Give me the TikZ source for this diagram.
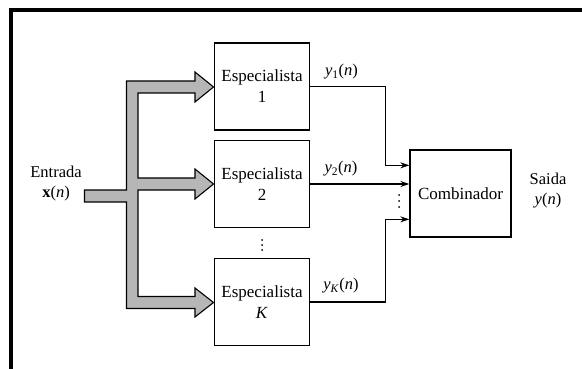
\documentclass[tikz,border=0pt]{standalone}
\usepackage{fontspec}
\setmainfont{Liberation Serif}
\usetikzlibrary{arrows.meta,calc}
\definecolor{arrowgray}{RGB}{182,182,182}
\begin{document}
\begin{tikzpicture}[x=1pt,y=-1pt,
  block/.style={draw,line width=1.3pt,minimum width=95pt,minimum height=87pt,
    align=center,inner sep=0pt,font=\fontsize{17}{21}\selectfont},
  conn/.style={line width=1.1pt,-{Stealth[length=9pt,width=6pt]}},
  lbl/.style={font=\fontsize{16.5}{20}\selectfont,inner sep=0pt,align=center},
  dot/.style={fill=black,draw=none}]
\useasboundingbox (0,0) rectangle (582,369);
% frame bars
\fill[black] (9,8) rectangle (582,12);
\fill[black] (9,8) rectangle (13,369);

% wide gray distribution arrow
\draw[fill=arrowgray,line width=1.1pt,line join=miter]
  (126.5,81) -- (195,81) -- (195,72) -- (213.5,87) -- (195,102) -- (195,93)
  -- (138,93) -- (138,178) -- (195,178) -- (195,169) -- (213.5,184) -- (195,199)
  -- (195,190) -- (138,190) -- (138,296.5) -- (195,296.5) -- (195,288)
  -- (213.5,302.5) -- (195,317) -- (195,308.5) -- (126.5,308.5) -- (126.5,202)
  -- (84.5,202) -- (84.5,190) -- (126.5,190) -- cycle;

% experts
\node[block] (b1) at (262,86.5) {Especialista\\1};
\node[block] (b2) at (262,184) {Especialista\\2};
\node[block] (bK) at (262,302) {Especialista\\\textit{K}};
\node[block,minimum width=101pt] (comb) at (460.5,193.5) {Combinador};

% combiner input points
\path (comb.north west) ++(0,16) coordinate (c1);
\path (comb.north west) ++(0,70) coordinate (c3);

% expert outputs
\draw[conn] (b1.east) -- ++(75.5,0) |- (c1);
\draw[conn] (b2.east) -- (b2.east -| comb.west);
\draw[conn] (bK.east) -- ++(75.5,0) |- (c3);

% dots
\foreach \yy in {240,245,250} \fill[dot] (262,\yy) circle (1pt);
\foreach \yy in {195,201,207} \fill[dot] (399,\yy) circle (1pt);

% labels
\node[lbl] (ly1) at (341.5,72) {\textit{y}\textsubscript{1}(\textit{n})};
\node[lbl] (ly2) at (341,169) {\textit{y}\textsubscript{2}(\textit{n})};
\node[lbl] (lyK) at (341,286) {\textit{y}\textsubscript{\textit{K}}(\textit{n})};
\node[lbl] (in) at (56,183.5) {Entrada\\\textbf{x}(\textit{n})};
\node[lbl] (out) at (548,191) {Saida\\\textit{y}(\textit{n})};
\end{tikzpicture}
\end{document}
